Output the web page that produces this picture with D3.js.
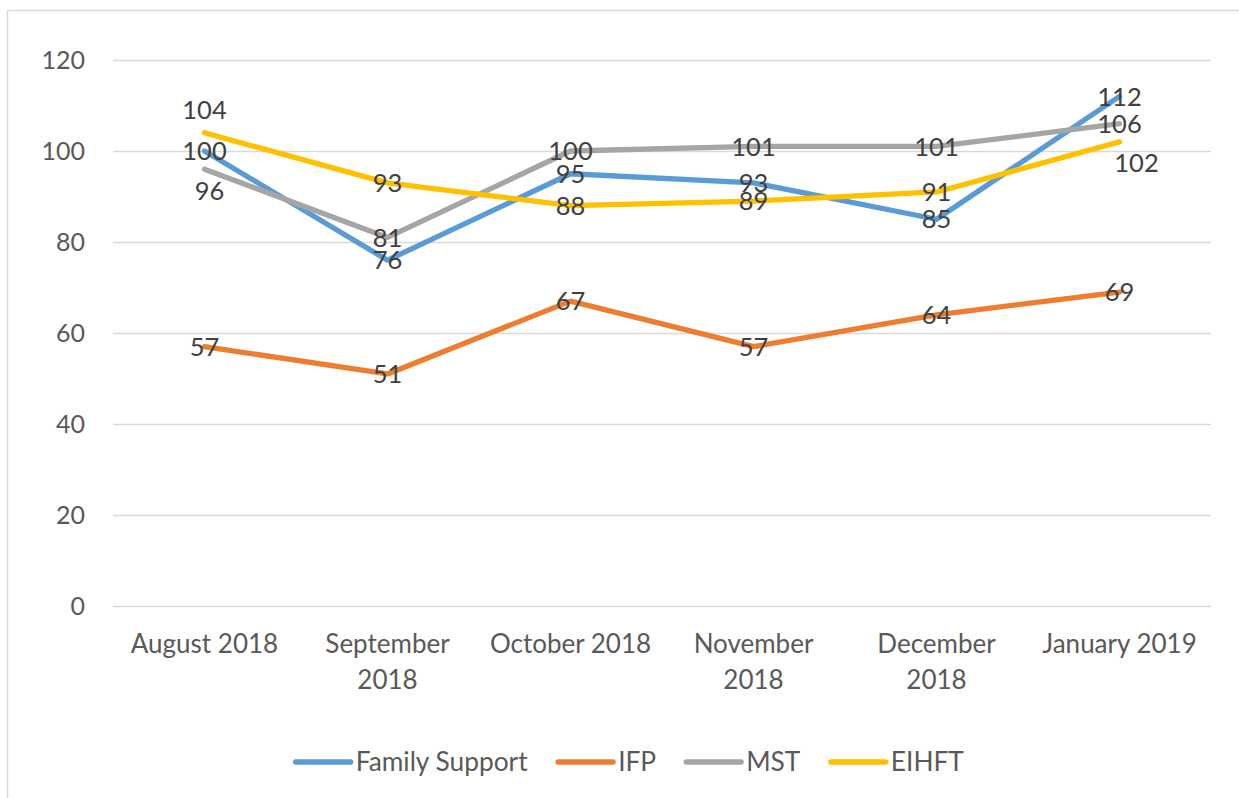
<!DOCTYPE html>
<html lang="en">
<head>
<meta charset="UTF-8">
<title>Programme counts</title>
<script src="https://d3js.org/d3.v7.min.js"></script>
<style>
  body { margin: 0; background: #fff; }
  svg text { font-family: "Lato", "Open Sans", sans-serif; }
</style>
</head>
<body>
<svg width="1239" height="798"></svg>
<script>
// data
var months = ["August 2018", "September 2018", "October 2018", "November 2018", "December 2018", "January 2019"];
var monthLines = [["August 2018"], ["September", "2018"], ["October 2018"], ["November", "2018"], ["December", "2018"], ["January 2019"]];
var seriesNames = ["Family Support", "IFP", "MST", "EIHFT"];
var familySupport = [100, 76, 95, 93, 85, 112];
var ifp = [57, 51, 67, 57, 64, 69];
var mst = [96, 81, 100, 101, 101, 106];
var eihft = [104, 93, 88, 89, 91, 102];
var yTicks = [0, 20, 40, 60, 80, 100, 120];

var colors = ["#5B9BD5", "#ED7D31", "#A5A5A5", "#FFC000"];
var seriesValues = [familySupport, ifp, mst, eihft];

// labels Excel pushed off the point (series index, month index) -> offset
var labelShift = {"2-0": [5, 22], "3-0": [0, -23], "3-5": [17, 21]};

var svg = d3.select("svg");

svg.append("rect")
    .attr("x", 7.5).attr("y", 10.5)
    .attr("width", 1240).attr("height", 800)
    .attr("fill", "none").attr("stroke", "#d9d9d9").attr("stroke-width", 1.5);

var x = d3.scaleBand().domain(months).range([113, 1211]);
var y = d3.scaleLinear().domain([0, 120]).range([606, 60]);

// gridlines
svg.append("g")
  .selectAll("line")
  .data(yTicks)
  .enter().append("line")
    .attr("x1", 113).attr("x2", 1211)
    .attr("y1", function(d) { return Math.round(y(d)) + 0.5; })
    .attr("y2", function(d) { return Math.round(y(d)) + 0.5; })
    .attr("stroke", "#d9d9d9").attr("stroke-width", 1.3);

// y axis labels
svg.append("g")
  .selectAll("text")
  .data(yTicks)
  .enter().append("text")
    .attr("x", 85)
    .attr("y", function(d) { return y(d); })
    .attr("dy", "0.36em")
    .attr("text-anchor", "end")
    .attr("font-size", 25)
    .attr("fill", "#595959")
    .text(function(d) { return d; });

// x axis labels
var xl = svg.append("g")
  .selectAll("text")
  .data(months)
  .enter().append("text")
    .attr("x", function(d) { return x(d) + x.bandwidth() / 2; })
    .attr("y", 653)
    .attr("text-anchor", "middle")
    .attr("font-size", 26)
    .attr("fill", "#595959");
xl.each(function(d, i) {
  d3.select(this).selectAll("tspan")
    .data(monthLines[i])
    .enter().append("tspan")
      .attr("x", x(d) + x.bandwidth() / 2)
      .attr("dy", function(t, j) { return j ? 36 : 0; })
      .text(function(t) { return t; });
});

var line = d3.line()
    .x(function(d, i) { return x(months[i]) + x.bandwidth() / 2; })
    .y(function(d) { return y(d); });

svg.append("g")
  .selectAll("path")
  .data(seriesValues)
  .enter().append("path")
    .attr("d", line)
    .attr("fill", "none")
    .attr("stroke", function(d, i) { return colors[i]; })
    .attr("stroke-width", 5.3)
    .attr("stroke-linecap", "round")
    .attr("stroke-linejoin", "round");

// data labels
seriesValues.forEach(function(vals, s) {
  svg.append("g")
    .selectAll("text")
    .data(vals)
    .enter().append("text")
      .attr("x", function(d, i) {
        var off = labelShift[s + "-" + i];
        return x(months[i]) + x.bandwidth() / 2 + (off ? off[0] : 0);
      })
      .attr("y", function(d, i) {
        var off = labelShift[s + "-" + i];
        return y(d) + (off ? off[1] : 0);
      })
      .attr("dy", "0.36em")
      .attr("text-anchor", "middle")
      .attr("font-size", 25.5)
      .attr("fill", "#404040")
      .text(function(d) { return d; });
});

// legend
var legend = svg.append("g");
var items = legend.selectAll("g")
  .data(seriesNames)
  .enter().append("g");
items.append("line")
    .attr("x1", 0).attr("x2", 55)
    .attr("y1", 762).attr("y2", 762)
    .attr("stroke", function(d, i) { return colors[i]; })
    .attr("stroke-width", 5.3)
    .attr("stroke-linecap", "round");
items.append("text")
    .attr("x", 60).attr("y", 762)
    .attr("dy", "0.36em")
    .attr("font-size", 26.3)
    .attr("fill", "#595959")
    .text(function(d) { return d; });
var pos = 0, widths = [];
items.each(function() { widths.push(this.getBBox().width); });
var total = d3.sum(widths) + 30 * (widths.length - 1);
pos = 630 - total / 2;
items.attr("transform", function(d, i) {
  var t = "translate(" + pos + ",0)";
  pos += widths[i] + 30;
  return t;
});
</script>
</body>
</html>
